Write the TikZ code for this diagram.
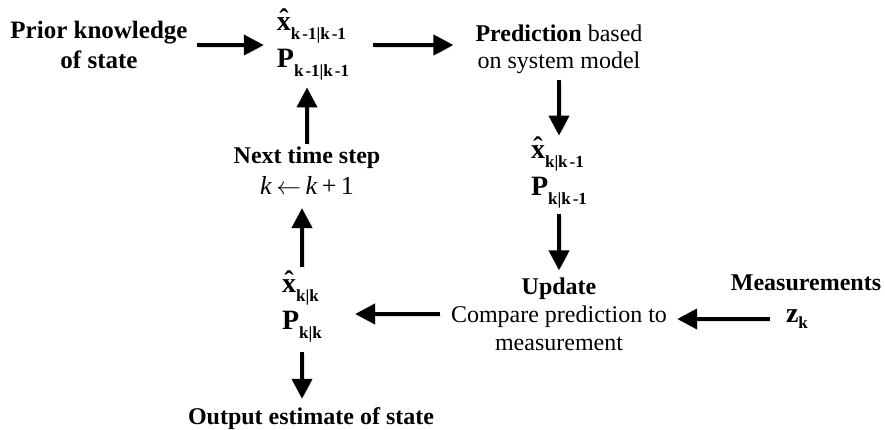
\documentclass[tikz,border=0pt]{standalone}
\usepackage{fontspec}
\setmainfont{Liberation Serif}
\usetikzlibrary{positioning, arrows.meta}

\newcommand{\subsz}{\fontsize{17}{17}\selectfont}
\newcommand{\hatx}{\ooalign{\textbf{x}\cr\hidewidth\raisebox{2pt}{\textbf{ˆ}}\hidewidth\cr}}
\newcommand{\estx}[1]{\hatx\raisebox{-9pt}{\subsz\textbf{#1}}}
\newcommand{\estP}[1]{\textbf{P}\raisebox{-9pt}{\subsz\textbf{#1}}}

\begin{document}
\begin{tikzpicture}[x=1pt, y=1pt, on grid, inner sep=0pt,
    txt/.style={font=\fontsize{24}{29}\selectfont, align=center},
    est/.style={font=\fontsize{28}{37}\selectfont, align=left},
    flow/.style={line width=4pt, -{Triangle[length=20pt,width=20pt]},
        preaction={draw=black!12, transform canvas={shift={(2pt,-2pt)}}}}]
    \useasboundingbox (0,0) rectangle (885,-430);

    % PREDICTION
    \node[txt, font=\fontsize{25}{30}\selectfont] (prior) at (99,-45) {\textbf{Prior knowledge}\\\textbf{of state}};
    \node[est] (xprev) [right=214pt of prior, yshift=-4pt] {\estx{k\kern2pt-1|k\kern2pt-1}\\\estP{k\kern2pt-1|k\kern2pt-1}};
    \node[txt, font=\fontsize{24}{27}\selectfont] (pred) [right=246pt of xprev] {\textbf{Prediction} based\\on system model};
    \node[est] (xpred) [below=128pt of pred] {\estx{k|k\kern2pt-1}\\\estP{k|k\kern2pt-1}};

    % UPDATE
    \node[txt, font=\fontsize{24}{28}\selectfont] (update) [below=137pt of xpred] {\textbf{Update}\\Compare prediction to\\measurement};
    \node[est] (zk) [right=238pt of update, yshift=-5pt] {\textbf{z}\raisebox{-6pt}{\subsz\textbf{k}}};
    \node[txt] (meas) [above right=36pt and 9pt of zk] {\textbf{Measurements}};
    \node[est] (xupd) [left=257pt of update, yshift=3pt] {\estx{k|k}\\\estP{k|k}};

    % NEXT STEP AND OUTPUT
    \node[txt, font=\fontsize{24}{31}\selectfont] (next) [above right=140pt and 5pt of xupd] {\textbf{Next time step}\\{\fontsize{26}{31}\selectfont\textit{k}\,$\leftarrow$\,\textit{k}\,+\,1}};
    \node[txt] (out) [below right=108pt and 9pt of xupd] {\textbf{Output estimate of state}};

    % ARROWS
    \path
        (prior.east) edge[flow, shorten <=9pt, shorten >=13pt] (prior.east -| xprev.west)
        (xprev.east |- prior.east) edge[flow, shorten <=24pt, shorten >=22pt] (prior.east -| pred.west)
        (pred) edge[flow, shorten <=6pt, shorten >=10pt] (xpred)
        (xpred) edge[flow, shorten <=6pt, shorten >=7pt] (update)
        (zk.west) edge[flow, shorten <=16pt, shorten >=10pt] (zk.west -| update.east)
        (update.west) edge[flow, shorten <=11pt, shorten >=33pt] (update.west -| xupd.east)
        (xupd.north) edge[flow, shorten <=13pt, shorten >=13pt] (xupd.north |- next.south)
        (next.north) edge[flow, shorten <=3pt, shorten >=7pt] (next.north |- xprev.south)
        (xupd.south) edge[flow, shorten <=10pt, shorten >=9pt] (xupd.south |- out.north);
\end{tikzpicture}
\end{document}
